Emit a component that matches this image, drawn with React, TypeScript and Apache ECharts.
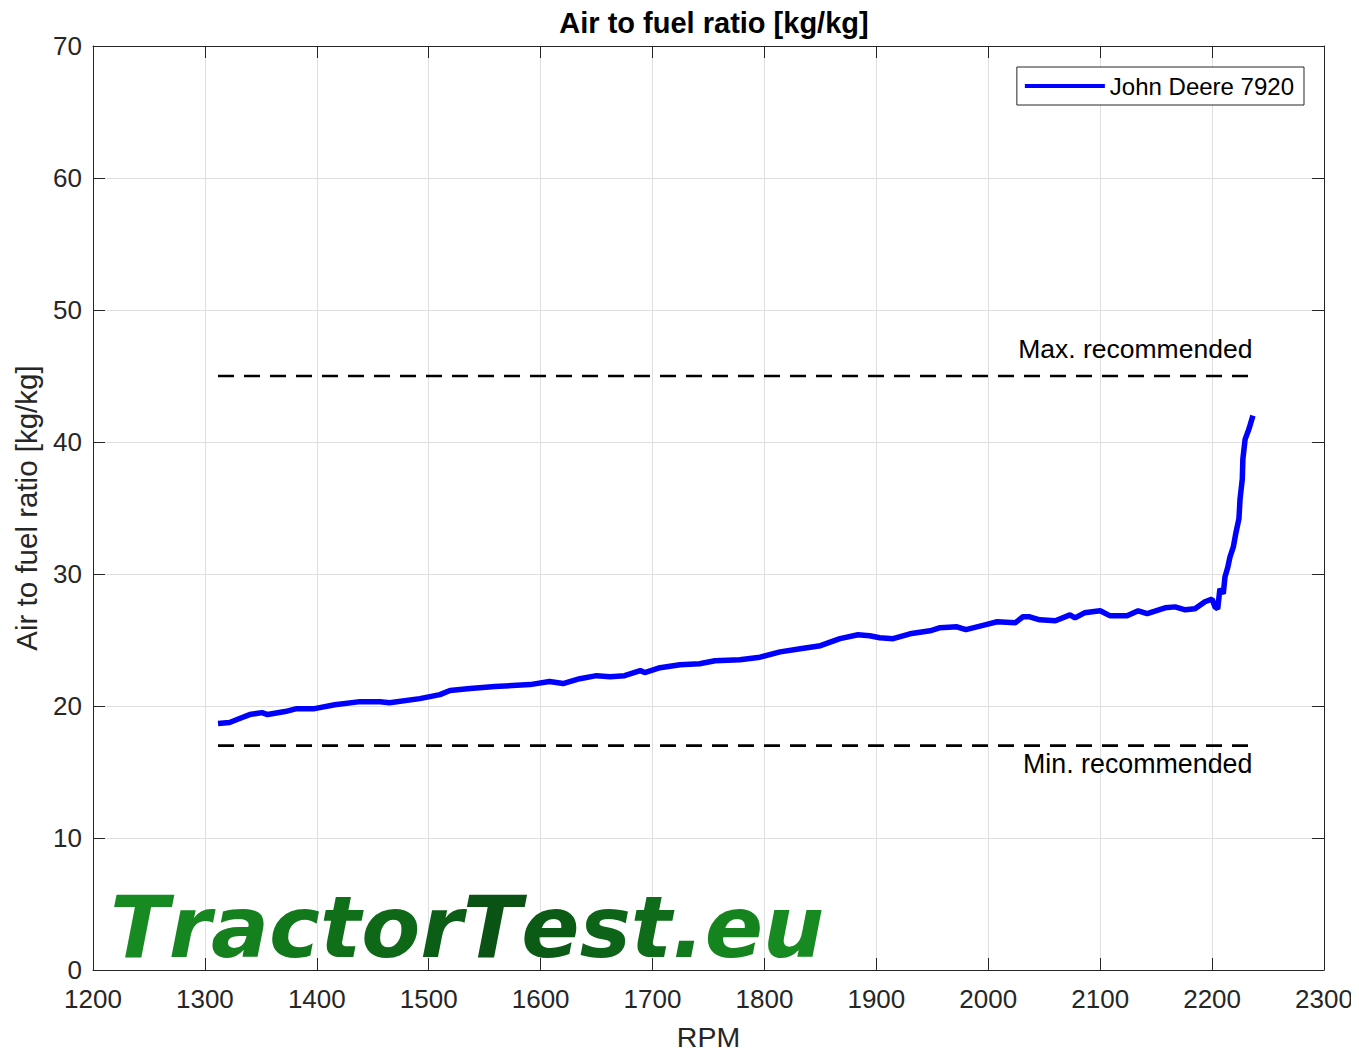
import React, { useEffect, useRef } from "react";
import * as echarts from "echarts";

const rpm = [1311.7, 1322, 1331, 1340, 1351, 1356, 1371.6, 1382, 1398, 1416, 1438.6, 1456.5, 1465, 1492, 1510, 1519, 1537, 1559, 1590.5, 1608, 1620, 1635, 1650, 1662, 1675, 1689, 1693, 1706.7, 1724.5, 1742, 1755.8, 1778, 1796, 1814, 1832, 1850, 1867.5, 1883.6, 1894, 1903, 1915, 1930, 1948, 1957, 1972, 1980, 1997, 2008, 2024, 2031, 2037, 2046, 2060, 2073, 2077.5, 2086, 2100, 2109, 2124, 2134, 2142, 2158, 2167, 2176, 2184.7, 2193.6, 2200, 2202.6, 2205, 2207, 2210, 2211.5, 2214, 2216, 2219, 2221, 2224, 2225, 2227, 2227.5, 2229.5, 2233, 2236.5];
const afr = [18.67, 18.75, 19.05, 19.35, 19.5, 19.35, 19.58, 19.8, 19.8, 20.1, 20.33, 20.33, 20.25, 20.56, 20.86, 21.17, 21.32, 21.47, 21.62, 21.85, 21.7, 22.07, 22.3, 22.22, 22.3, 22.68, 22.53, 22.9, 23.13, 23.2, 23.43, 23.5, 23.7, 24.1, 24.34, 24.57, 25.1, 25.4, 25.32, 25.17, 25.1, 25.47, 25.7, 25.93, 26.0, 25.78, 26.15, 26.38, 26.3, 26.76, 26.76, 26.53, 26.46, 26.9, 26.68, 27.06, 27.21, 26.83, 26.83, 27.21, 26.99, 27.44, 27.51, 27.29, 27.36, 27.9, 28.1, 27.5, 27.36, 28.87, 28.5, 29.78, 30.5, 31.3, 32.05, 33.0, 34.2, 35.7, 37.2, 38.7, 40.2, 41.0, 42.0];

const limitRpm = [1311.7, 2236];
const maxRecommended = 45;
const minRecommended = 17;

const xTicks = { min: 1200, max: 2300, interval: 100 };
const yTicks = { min: 0, max: 70, interval: 10 };

const logoChars = ["T", "r", "a", "c", "t", "o", "r", "T", "e", "s", "t", ".", "e", "u"];
const logoColors = ["#178a22", "#168620", "#14801e", "#12781c", "#107019", "#0e6818", "#0c5e16", "#0a5314", "#0b5a16", "#0d6318", "#0f6c1a", "#127a1d", "#15841f", "#178a22"];

const FONT = "Liberation Sans";

export default function App() {
  const ref = useRef<HTMLDivElement>(null);
  useEffect(() => {
    if (!ref.current) return;
    const chart = echarts.init(ref.current, null, { renderer: "svg" });
    const axisColor = "#262626";
    const baseAxis = {
      axisLine: { show: true, onZero: false, lineStyle: { color: axisColor, width: 1 } },
      axisTick: { show: true, inside: true, length: 12, lineStyle: { color: axisColor } },
      splitLine: { show: false },
    };
    const logoFont = "italic bold 86px 'DejaVu Sans'";
    const rich: Record<string, any> = {};
    logoChars.forEach((_, i) => {
      rich["c" + i] = { fill: logoColors[i], font: logoFont };
    });
    const logoText = logoChars.map((ch, i) => `{c${i}|${ch}}`).join("");
    chart.setOption({
      animation: false,
      backgroundColor: "#ffffff",
      textStyle: { fontFamily: FONT },
      title: {
        text: "Air to fuel ratio [kg/kg]",
        left: 709,
        textAlign: "center",
        top: 3,
        textStyle: { fontFamily: FONT, fontSize: 29, fontWeight: "bold", color: "#000" },
      },
      legend: {
        right: 55,
        top: 67,
        data: ["John Deere 7920"],
        icon: "rect",
        itemWidth: 80,
        itemHeight: 4,
        itemGap: 0,
        padding: [7, 10, 7, 8],
        borderColor: axisColor,
        borderWidth: 1,
        backgroundColor: "#fff",
        textStyle: { fontFamily: FONT, fontSize: 24, color: "#000" },
      },
      grid: { left: 93, right: 35, top: 46, bottom: 84, containLabel: false },
      xAxis: [
        {
          type: "value",
          ...xTicks,
          ...baseAxis,
          splitLine: { show: true, lineStyle: { color: "#dfdfdf", width: 1 } },
          axisLabel: { fontFamily: FONT, fontSize: 26, color: axisColor, margin: 16, formatter: (v: number) => String(v) },
          name: "RPM",
          nameLocation: "middle",
          nameGap: 52,
          nameTextStyle: { fontFamily: FONT, fontSize: 28.5, color: axisColor },
        },
        {
          type: "value",
          position: "top",
          ...xTicks,
          ...baseAxis,
          axisLabel: { show: false },
        },
      ],
      yAxis: [
        {
          type: "value",
          ...yTicks,
          ...baseAxis,
          splitLine: { show: true, lineStyle: { color: "#dfdfdf", width: 1 } },
          axisLabel: { fontFamily: FONT, fontSize: 26, color: axisColor, margin: 11, formatter: (v: number) => String(v) },
          name: "Air to fuel ratio [kg/kg]",
          nameLocation: "middle",
          nameGap: 52,
          nameTextStyle: { fontFamily: FONT, fontSize: 29.5, color: axisColor },
        },
        {
          type: "value",
          position: "right",
          ...yTicks,
          ...baseAxis,
          axisLabel: { show: false },
        },
      ],
      series: [
        {
          name: "Max",
          type: "line",
          showSymbol: false,
          symbol: "none",
          data: limitRpm.map((r) => [r, maxRecommended]),
          lineStyle: { color: "#000", width: 2.7, type: [16, 10] },
          markPoint: {
            symbol: "rect",
            symbolSize: 0,
            data: [
              {
                coord: [limitRpm[1], maxRecommended],
                label: {
                  show: true,
                  formatter: "Max. recommended",
                  position: "inside",
                  align: "right",
                  verticalAlign: "bottom",
                  offset: [0, -14],
                  fontFamily: FONT,
                  fontSize: 26.5,
                  color: "#000",
                },
              },
            ],
          },
        },
        {
          name: "Min",
          type: "line",
          showSymbol: false,
          symbol: "none",
          data: limitRpm.map((r) => [r, minRecommended]),
          lineStyle: { color: "#000", width: 2.7, type: [16, 10] },
          markPoint: {
            symbol: "rect",
            symbolSize: 0,
            data: [
              {
                coord: [limitRpm[1], minRecommended],
                label: {
                  show: true,
                  formatter: "Min. recommended",
                  position: "inside",
                  align: "right",
                  verticalAlign: "top",
                  offset: [0, 5],
                  fontFamily: FONT,
                  fontSize: 26.8,
                  color: "#000",
                },
              },
            ],
          },
        },
        {
          name: "John Deere 7920",
          type: "line",
          showSymbol: false,
          symbol: "none",
          data: rpm.map((r, i) => [r, afr[i]]),
          lineStyle: { color: "#0000ff", width: 5.5 },
          itemStyle: { color: "#0000ff" },
          z: 5,
        },
      ],
      graphic: [
        {
          type: "text",
          left: 110,
          top: 884,
          z: 10,
          style: { text: logoText, font: logoFont, rich },
        },
      ],
    });
    return () => chart.dispose();
  }, []);
  return <div ref={ref} style={{ width: 1359, height: 1056, margin: -8 }} />;
}
